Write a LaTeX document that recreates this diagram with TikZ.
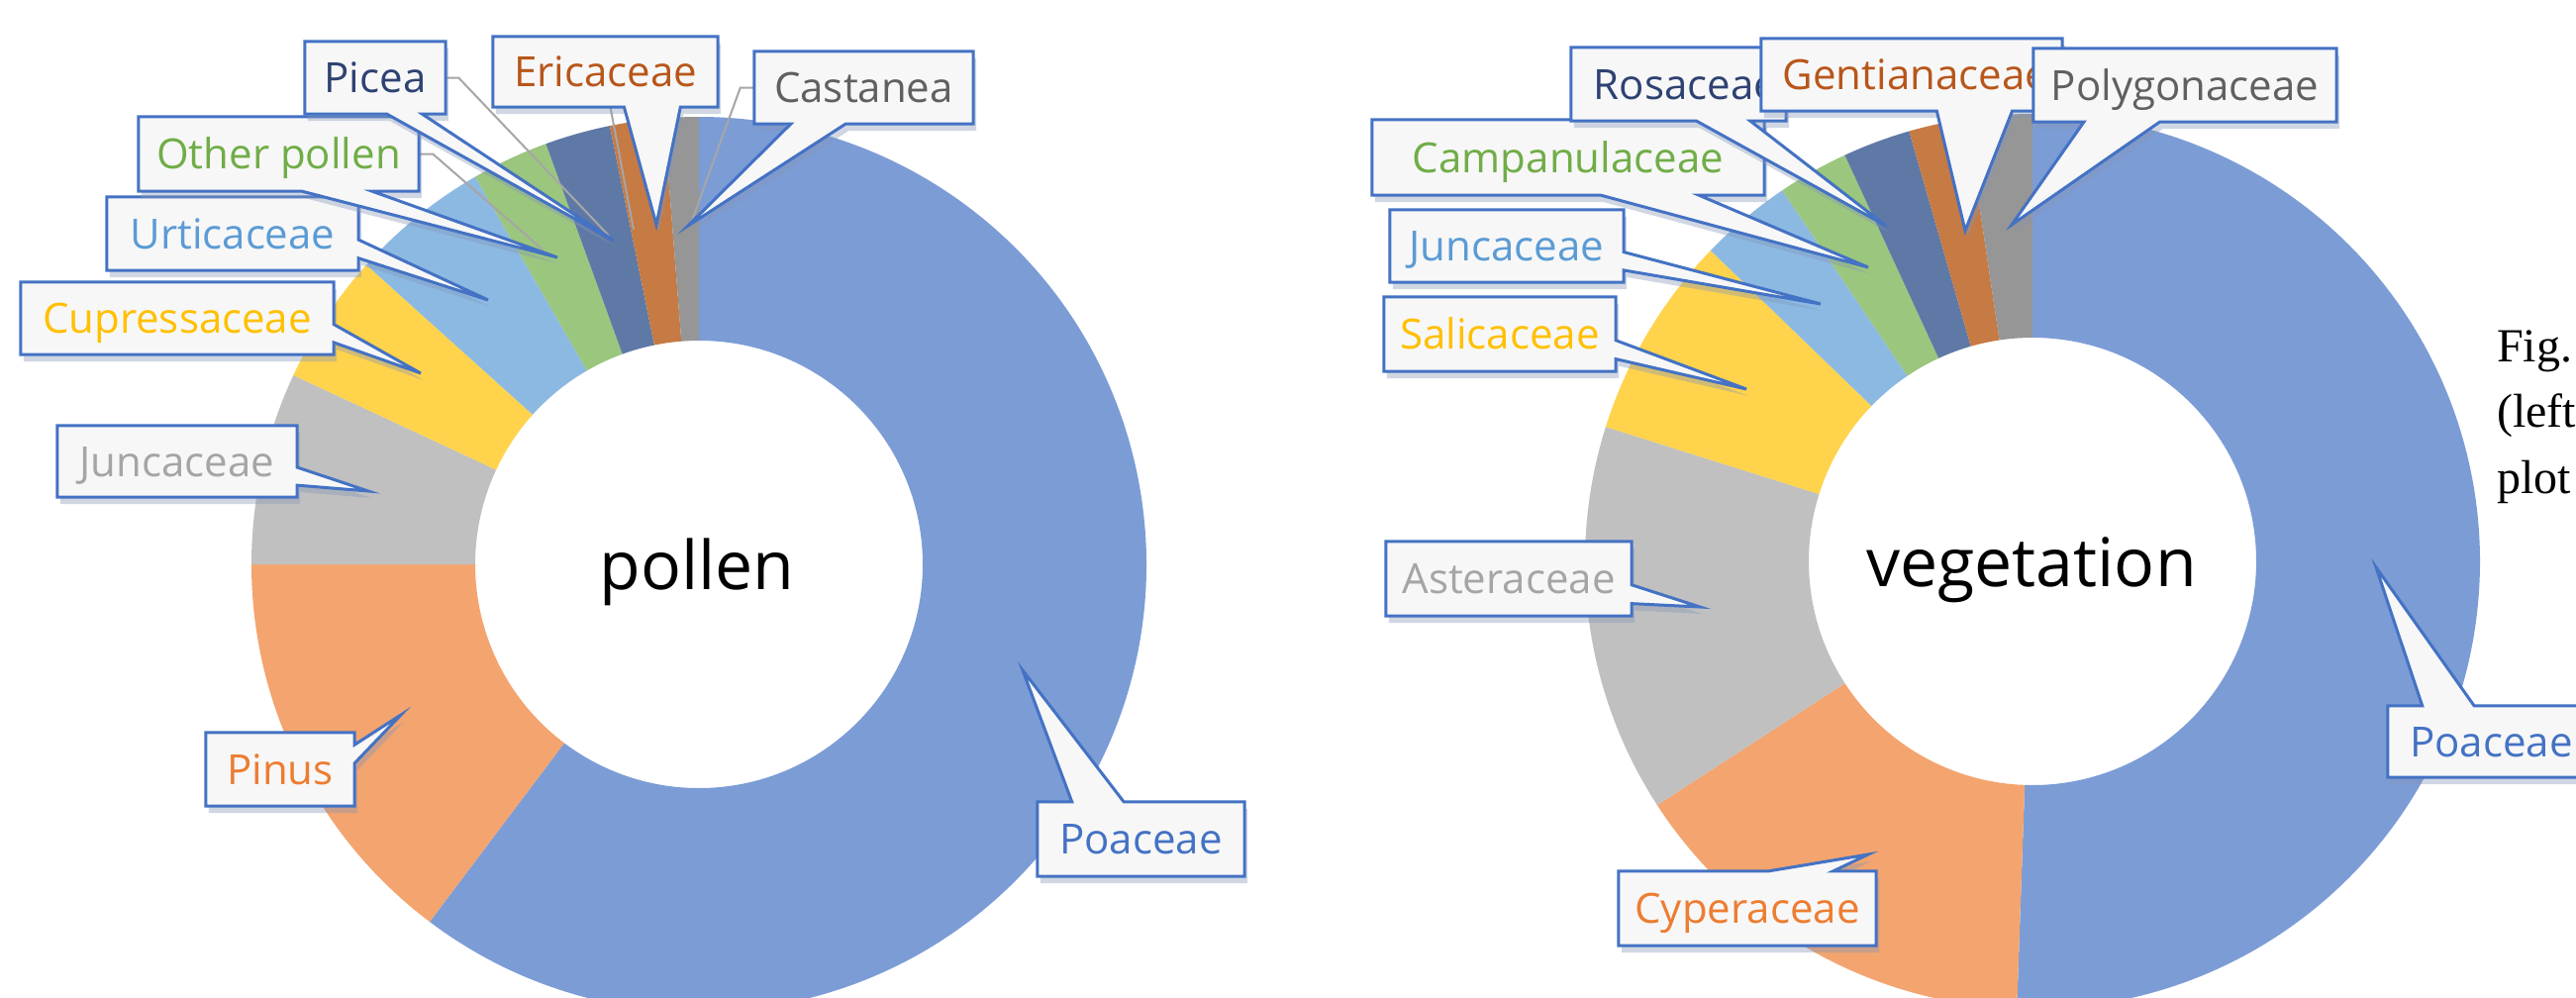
\documentclass[tikz,border=0pt]{standalone}
\usepackage{fontspec}
\usetikzlibrary{calc}
\newfontfamily\lblfont{Open Sans}
\newfontfamily\ctrfont{Open Sans}
\newfontfamily\capfont{Liberation Serif}
% Office accent colours
\definecolor{acA}{HTML}{4472C4}
\definecolor{acB}{HTML}{ED7D31}
\definecolor{acC}{HTML}{A5A5A5}
\definecolor{acD}{HTML}{FFC000}
\definecolor{acE}{HTML}{5B9BD5}
\definecolor{acF}{HTML}{70AD47}
\definecolor{acG}{HTML}{2E4272}
\definecolor{acH}{HTML}{B8561A}
\definecolor{acI}{HTML}{606060}
\definecolor{slG}{HTML}{5F79A6}
\definecolor{slH}{HTML}{C67A44}
\definecolor{slI}{HTML}{969696}
\definecolor{shadowcol}{HTML}{8496B8}
\definecolor{leadercol}{HTML}{A6A6A6}
\tikzset{
  boxgeom/.style={draw=none, inner sep=0pt},
  lbl/.style={inner sep=0pt, font=\lblfont\fontsize{42pt}{48pt}\selectfont, text height=30pt, text depth=0pt},
  ctr/.style={inner sep=0pt, font=\ctrfont\fontsize{68pt}{72pt}\selectfont, text=black},
  capt/.style={inner sep=0pt, font=\capfont\fontsize{48pt}{66pt}\selectfont, text=black},
  cbox/.style={fill=white!97!black, draw=acA, line width=3pt, line join=miter},
  cshad/.style={fill=shadowcol, opacity=0.38},
  leader/.style={draw=leadercol, line width=2pt}
}
% ring slice: centre, start angle, end angle, colour
\newcommand{\ring}[4]{\fill[#4] ($(#1)+(#2:452pt)$) arc[start angle=#2, end angle=#3, radius=452pt] -- ($(#1)+(#3:226pt)$) arc[start angle=#3, end angle=#2, radius=226pt] -- cycle;}
% callouts: node, fraction 1, fraction 2, tip
\newcommand{\calloutB}[4]{%
  \begin{scope}[transform canvas={shift={(3pt,-7pt)}}]
  \fill[cshad] (#1.north west) -- (#1.north east) -- (#1.south east) -- ($(#1.south west)!#3!(#1.south east)$) -- (#4) -- ($(#1.south west)!#2!(#1.south east)$) -- (#1.south west) -- cycle;
  \end{scope}
  \filldraw[cbox] (#1.north west) -- (#1.north east) -- (#1.south east) -- ($(#1.south west)!#3!(#1.south east)$) -- (#4) -- ($(#1.south west)!#2!(#1.south east)$) -- (#1.south west) -- cycle;}
\newcommand{\calloutT}[4]{%
  \begin{scope}[transform canvas={shift={(3pt,-7pt)}}]
  \fill[cshad] (#1.south west) -- (#1.south east) -- (#1.north east) -- ($(#1.north west)!#3!(#1.north east)$) -- (#4) -- ($(#1.north west)!#2!(#1.north east)$) -- (#1.north west) -- cycle;
  \end{scope}
  \filldraw[cbox] (#1.south west) -- (#1.south east) -- (#1.north east) -- ($(#1.north west)!#3!(#1.north east)$) -- (#4) -- ($(#1.north west)!#2!(#1.north east)$) -- (#1.north west) -- cycle;}
\newcommand{\calloutR}[4]{%
  \begin{scope}[transform canvas={shift={(3pt,-7pt)}}]
  \fill[cshad] (#1.north west) -- (#1.north east) -- ($(#1.north east)!#2!(#1.south east)$) -- (#4) -- ($(#1.north east)!#3!(#1.south east)$) -- (#1.south east) -- (#1.south west) -- cycle;
  \end{scope}
  \filldraw[cbox] (#1.north west) -- (#1.north east) -- ($(#1.north east)!#2!(#1.south east)$) -- (#4) -- ($(#1.north east)!#3!(#1.south east)$) -- (#1.south east) -- (#1.south west) -- cycle;}
\def\fa{0.1667}\def\fb{0.4167}\def\fc{0.5833}\def\fd{0.8333}

\begin{document}
\begin{tikzpicture}[x=1pt,y=-1pt]
\path[use as bounding box] (0,0) rectangle (2602,1007);
\fill[white] (0,0) rectangle (2602,1007);
\clip (0,0) rectangle (2602,1007);

% ---------------- left doughnut: pollen ----------------
\coordinate (L) at (706,570);
\ring{L}{-127}{90}{acA!70!white}
\ring{L}{180}{233}{acB!70!white}
\ring{L}{155}{180}{acC!70!white}
\ring{L}{138}{155}{acD!70!white}
\ring{L}{120}{138}{acE!70!white}
\ring{L}{110}{120}{acF!70!white}
\ring{L}{101.5}{110}{slG}
\ring{L}{94.5}{101.5}{slH}
\ring{L}{90}{94.5}{slI}
\node[ctr, anchor=base] (ctrL) at (704,595) {pollen};

% label geometry (left)
\node[boxgeom, minimum width=142pt, minimum height=73pt] (picea) at (379,78.5) {};
\node[boxgeom, minimum width=227pt, minimum height=71pt] (ericaceae) at (611.5,72.5) {};
\node[boxgeom, minimum width=221pt, minimum height=73pt] (castanea) at (872.5,88.5) {};
\node[boxgeom, minimum width=283pt, minimum height=75pt] (otherpollen) at (281.5,155.5) {};
\node[boxgeom, minimum width=254pt, minimum height=74pt] (urticaceae) at (235,236) {};
\node[boxgeom, minimum width=316pt, minimum height=73pt] (cupressaceae) at (179,321.5) {};
\node[boxgeom, minimum width=242pt, minimum height=72pt] (juncL) at (179,466) {};
\node[boxgeom, minimum width=150pt, minimum height=74pt] (pinus) at (283,777) {};
\node[boxgeom, minimum width=209pt, minimum height=75pt] (poaL) at (1152.5,847.5) {};

% tips (left)
\coordinate (tPic) at (620,243);
\coordinate (tEri) at (663,227);
\coordinate (tCas) at (695,228);
\coordinate (tOth) at (563,260);
\coordinate (tUrt) at (493,303);
\coordinate (tCup) at (425,377);
\coordinate (tJunL) at (372,496);
\coordinate (tPin) at (405,722);
\coordinate (tPoaL) at (1033,677);

% leader lines (left)
\coordinate (lPic) at (615,238);
\coordinate (lOth) at (548,252);
\coordinate (lEri) at (640,232);
\coordinate (lCas) at (697,228);
\draw[leader] (picea.east) -- ++(13,0) -- (lPic);
\draw[leader] (otherpollen.east) -- ++(14,0) -- (lOth);
\draw[leader] ($(ericaceae.south)+(5,0)$) -- (lEri);
\draw[leader] (castanea.west) -- ++(-14,0) -- (lCas);

% callouts (left)
\calloutR{juncL}{\fc}{\fd}{tJunL}
\node[lbl, text=acC] (juncLt) at (juncL.center) {Juncaceae};
\calloutR{cupressaceae}{\fc}{\fd}{tCup}
\node[lbl, text=acD] (cupressaceaet) at (cupressaceae.center) {Cupressaceae};
\calloutR{urticaceae}{\fc}{\fd}{tUrt}
\node[lbl, text=acE] (urticaceaet) at (urticaceae.center) {Urticaceae};
\calloutB{otherpollen}{\fc}{\fd}{tOth}
\node[lbl, text=acF] (otherpollent) at (otherpollen.center) {Other pollen};
\calloutB{picea}{\fc}{\fd}{tPic}
\node[lbl, text=acG] (piceat) at (picea.center) {Picea};
\calloutB{ericaceae}{\fc}{\fd}{tEri}
\node[lbl, text=acH] (ericaceaet) at (ericaceae.center) {Ericaceae};
\calloutB{castanea}{\fa}{\fb}{tCas}
\node[lbl, text=acI] (castaneat) at (castanea.center) {Castanea};
\calloutR{pinus}{\fa}{\fb}{tPin}
\node[lbl, text=acB] (pinust) at (pinus.center) {Pinus};
\calloutT{poaL}{\fa}{\fb}{tPoaL}
\node[lbl, text=acA] (poaLt) at (poaL.center) {Poaceae};

% ---------------- right doughnut: vegetation ----------------
\coordinate (R) at (2053,567);
\ring{R}{-92}{90}{acA!70!white}
\ring{R}{213}{268}{acB!70!white}
\ring{R}{162.5}{213}{acC!70!white}
\ring{R}{136}{162.5}{acD!70!white}
\ring{R}{124}{136}{acE!70!white}
\ring{R}{114.8}{124}{acF!70!white}
\ring{R}{106}{114.8}{slG}
\ring{R}{98.5}{106}{slH}
\ring{R}{90}{98.5}{slI}
\node[ctr, anchor=base] (ctrR) at (2052,592) {vegetation};

% label geometry (right)
\node[boxgeom, minimum width=217pt, minimum height=74pt] (rosaceae) at (1695.5,85) {};
\node[boxgeom, minimum width=304pt, minimum height=73pt] (gentian) at (1931,75.5) {};
\node[boxgeom, minimum width=306pt, minimum height=74pt] (polygon) at (2207,86) {};
\node[boxgeom, minimum width=396pt, minimum height=76pt] (campan) at (1584,159) {};
\node[boxgeom, minimum width=236pt, minimum height=73pt] (juncR) at (1522,248.5) {};
\node[boxgeom, minimum width=234pt, minimum height=75pt] (salic) at (1515,337.5) {};
\node[boxgeom, minimum width=248pt, minimum height=75pt] (aster) at (1524,584.5) {};
\node[boxgeom, minimum width=260pt, minimum height=75pt] (cyper) at (1765,917.5) {};
\node[boxgeom, minimum width=209pt, minimum height=72pt] (poaR) at (2516.5,749) {};

% tips (right)
\coordinate (tRos) at (1905,228);
\coordinate (tGen) at (1985,233);
\coordinate (tPol) at (2032,227);
\coordinate (tCam) at (1887,270);
\coordinate (tJunR) at (1839,307);
\coordinate (tSal) at (1764,393);
\coordinate (tAst) at (1717,613);
\coordinate (tCyp) at (1887,863);
\coordinate (tPoaR) at (2400,573);

% callouts (right)
\calloutR{salic}{\fc}{\fd}{tSal}
\node[lbl, text=acD] (salict) at (salic.center) {Salicaceae};
\calloutR{juncR}{\fc}{\fd}{tJunR}
\node[lbl, text=acE] (juncRt) at (juncR.center) {Juncaceae};
\calloutB{campan}{\fc}{\fd}{tCam}
\node[lbl, text=acF] (campant) at (campan.center) {Campanulaceae};
\calloutB{rosaceae}{\fc}{\fd}{tRos}
\node[lbl, text=acG] (rosaceaet) at ($(rosaceae.center)+(7,0)$) {Rosaceae};
\calloutB{gentian}{\fc}{\fd}{tGen}
\node[lbl, text=acH] (gentiant) at ($(gentian.center)+(4,0)$) {Gentianaceae};
\calloutB{polygon}{\fa}{\fb}{tPol}
\node[lbl, text=acI] (polygont) at (polygon.center) {Polygonaceae};
\calloutR{aster}{\fc}{\fd}{tAst}
\node[lbl, text=acC] (astert) at (aster.center) {Asteraceae};
\calloutT{cyper}{\fc}{\fd}{tCyp}
\node[lbl, text=acB] (cypert) at (cyper.center) {Cyperaceae};
\calloutT{poaR}{\fa}{\fb}{tPoaR}
\node[lbl, text=acA] (poaRt) at (poaR.center) {Poaceae};

% caption (cut by the right edge)
\node[capt, anchor=base west] (cap1) at (2522,365) {Fig.};
\node[capt, anchor=base west] (cap2) at (2522,431) {(left};
\node[capt, anchor=base west] (cap3) at (2522,498) {plot};
\end{tikzpicture}
\end{document}
